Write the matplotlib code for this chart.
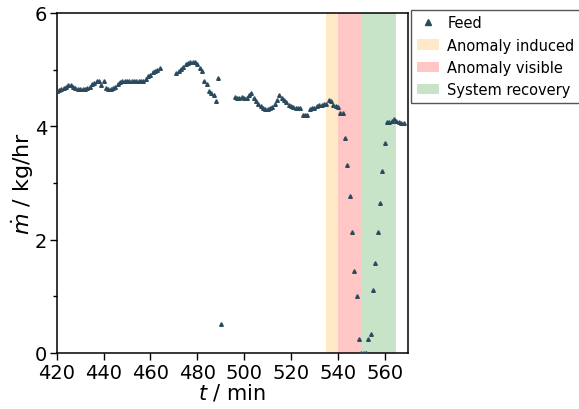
import matplotlib
matplotlib.use("Agg")
import matplotlib.pyplot as plt
from matplotlib.ticker import MultipleLocator

# ---- data ----
t_min = [
    420, 421, 422, 423, 424, 425, 426, 427, 428, 429, 430, 431, 432, 433, 434,
    435, 436, 437, 438, 439, 440, 441, 442, 443, 444, 445, 446, 447, 448, 449,
    450, 451, 452, 453, 454, 455, 456, 457, 458, 459, 460, 461, 462, 463, 464,
    471, 472, 473, 474, 475, 476, 477, 478, 479, 480, 481, 482, 483, 484, 485,
    486, 487, 488, 489, 490,
    496, 497, 498, 499, 500, 501, 502, 503, 504, 505, 506, 507, 508, 509, 510,
    511, 512, 513, 514, 515, 516, 517, 518, 519, 520, 521, 522, 523, 524, 525,
    526, 527, 528, 529, 530, 531, 532, 533, 534, 535, 536, 537, 538, 539, 540,
    541, 542, 543, 544, 545, 546, 547, 548, 549, 550, 551, 552, 553, 554, 555,
    556, 557, 558, 559, 560, 561, 562, 563, 564, 565, 566, 567, 568,
]
feed = [
    4.62, 4.64, 4.66, 4.68, 4.70, 4.72, 4.72, 4.70, 4.67, 4.66, 4.66, 4.66, 4.66, 4.68, 4.70,
    4.74, 4.77, 4.79, 4.79, 4.72, 4.80, 4.68, 4.66, 4.66, 4.68, 4.70, 4.74, 4.78, 4.79, 4.80,
    4.80, 4.80, 4.80, 4.80, 4.80, 4.80, 4.80, 4.80, 4.84, 4.88, 4.91, 4.95, 4.98, 5.00, 5.02,
    4.94, 4.97, 5.01, 5.05, 5.09, 5.12, 5.13, 5.13, 5.13, 5.10, 5.02, 4.97, 4.80, 4.74, 4.63,
    4.58, 4.55, 4.44, 4.86, 0.51,
    4.52, 4.50, 4.49, 4.52, 4.50, 4.49, 4.55, 4.58, 4.49, 4.45, 4.40, 4.36, 4.33, 4.31, 4.31,
    4.32, 4.34, 4.40, 4.46, 4.56, 4.50, 4.47, 4.42, 4.38, 4.35, 4.34, 4.33, 4.33, 4.33, 4.19,
    4.19, 4.19, 4.31, 4.32, 4.33, 4.35, 4.37, 4.38, 4.40, 4.40, 4.46, 4.44, 4.38, 4.36, 4.34,
    4.24, 4.24, 3.79, 3.32, 2.77, 2.14, 1.44, 1.01, 0.25, 0.0, 0.0, 0.0, 0.24, 0.34, 1.11,
    1.59, 2.13, 2.64, 3.21, 3.70, 4.07, 4.07, 4.10, 4.12, 4.10, 4.08, 4.05, 4.05,
]
phase_labels = ["Anomaly induced", "Anomaly visible", "System recovery"]
phase_start = [535, 540, 550]
phase_end = [540, 550, 565]
phase_colors = ["#fee8c6", "#ffc6c6", "#c8e4c8"]

fig = plt.figure(figsize=(5.79, 4.10), dpi=100)
ax = fig.add_axes([0.098, 0.137, 0.607, 0.829])

for lab, s, e, c in zip(phase_labels, phase_start, phase_end, phase_colors):
    ax.axvspan(s, e, color=c, lw=0, label=lab, zorder=0)

ax.plot(t_min, feed, ls="none", marker="^", ms=2.6, color="#2a4a5e",
        label="Feed", zorder=3)

ax.set_xlim(420, 570)
ax.set_ylim(0, 6)
ax.xaxis.set_major_locator(MultipleLocator(20))
ax.yaxis.set_major_locator(MultipleLocator(2))
ax.yaxis.set_minor_locator(MultipleLocator(1))
ax.tick_params(axis="both", which="major", labelsize=14, length=5, width=1, pad=2)
ax.tick_params(axis="y", which="minor", length=3, width=1)
for sp in ax.spines.values():
    sp.set_linewidth(1.1)

ax.set_xlabel("$t$ / min", fontsize=15, labelpad=0)
ax.set_ylabel("$\\dot{m}$ / kg/hr", fontsize=16, labelpad=-1)

h, l = ax.get_legend_handles_labels()
order = [3, 0, 1, 2]
leg = ax.legend([h[i] for i in order], [l[i] for i in order],
                loc="upper left", bbox_to_anchor=(1.008, 1.01), fontsize=10.5,
                fancybox=False, edgecolor="#555555", framealpha=1,
                borderaxespad=0.0, handlelength=1.5, handletextpad=0.6,
                labelspacing=0.5, markerscale=1.8)
leg.get_frame().set_linewidth(1.0)

fig.savefig("out.png", dpi=100)
